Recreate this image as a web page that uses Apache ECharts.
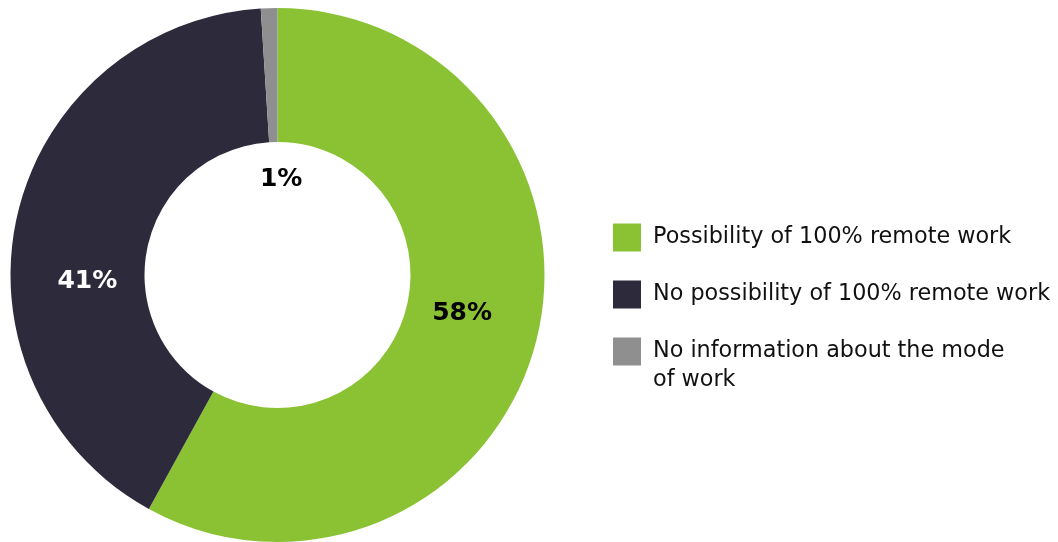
<!DOCTYPE html>
<html>
<head>
<meta charset="utf-8">
<script src="https://cdn.jsdelivr.net/npm/echarts@6/dist/echarts.min.js"></script>
<style>
  html, body { margin: 0; padding: 0; background: #ffffff; }
  #chart { width: 1058px; height: 542px; }
</style>
</head>
<body>
<div id="chart"></div>
<script>
// Share of job offers by mode of work
const categories = [
  'Possibility of 100% remote work',
  'No possibility of 100% remote work',
  'No information about the mode\nof work'
];
const shares = [58, 41, 1];
const sliceColors = ['#8ac234', '#2d2a3c', '#8f8f8f'];
const labelColors = ['#000000', '#ffffff', '#000000'];
// nudges from the ring's mid-radius toward where each percentage sits
const labelOffsets = [[-12, -12], [8, 51], [10, 107]];

const legendText = {
  fontFamily: 'DejaVu Sans',
  fontSize: 22.3,
  color: '#111111',
  lineHeight: 29,
  padding: [0, 0, 0, 7]
};
const legendBase = {
  orient: 'vertical',
  left: 613,
  padding: 0,
  itemWidth: 28,
  itemHeight: 28,
  itemGap: 28,
  icon: 'rect',
  selectedMode: false,
  textStyle: legendText
};

const chart = echarts.init(document.getElementById('chart'), null, { renderer: 'canvas' });

chart.setOption({
  animation: false,
  backgroundColor: '#ffffff',
  legend: [
    Object.assign({}, legendBase, {
      top: 223,
      data: categories.slice(0, 2)
    }),
    // the wrapped entry keeps its swatch beside the first line:
    // a leading empty line shifts the two-line text block down by one line
    Object.assign({}, legendBase, {
      top: 308,
      data: [categories[2]],
      formatter: name => '\n' + name
    })
  ],
  series: [{
    type: 'pie',
    center: [277.5, 275],
    radius: [133, 267],
    startAngle: 90,
    clockwise: true,
    avoidLabelOverlap: false,
    silent: true,
    itemStyle: { borderWidth: 0 },
    label: {
      show: true,
      position: 'inside',
      fontFamily: 'DejaVu Sans',
      fontWeight: 'bold',
      fontSize: 25,
      formatter: p => p.value + '%'
    },
    labelLine: { show: false },
    data: categories.map((name, i) => ({
      name,
      value: shares[i],
      itemStyle: { color: sliceColors[i] },
      label: { color: labelColors[i], offset: labelOffsets[i] }
    }))
  }]
});
</script>
</body>
</html>
